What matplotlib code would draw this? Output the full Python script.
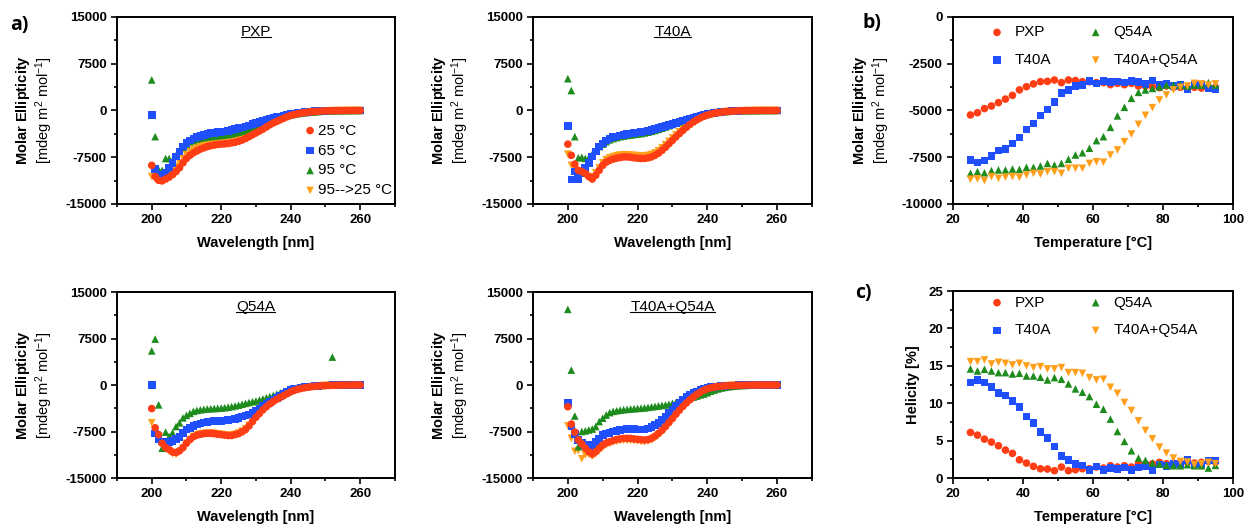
import numpy as np
import matplotlib
matplotlib.use('Agg')
import matplotlib.pyplot as plt
from matplotlib.ticker import MultipleLocator, FixedLocator
from matplotlib.lines import Line2D

plt.rcParams['font.family'] = ['Liberation Sans', 'DejaVu Sans']
plt.rcParams['axes.unicode_minus'] = False
plt.rcParams['mathtext.fontset'] = 'custom'
plt.rcParams['mathtext.rm'] = 'Liberation Sans'
plt.rcParams['mathtext.bf'] = 'Liberation Sans:bold'
plt.rcParams['mathtext.it'] = 'Liberation Sans:italic'

# длины волн (нм) и температуры (°C)
wl = np.arange(200, 261)
temps = np.arange(25, 96, 2)

# ---- CD спектры, 200..260 нм ----
pxp_25 = [-8800, -10600, -11200, -11300, -11000, -10700, -10300, -9800, -9200, -8400,
          -7700, -7200, -6800, -6500, -6200, -6000, -5800, -5650, -5550, -5450,
          -5400, -5350, -5300, -5200, -5100, -4950, -4750, -4500, -4200, -3900,
          -3600, -3300, -3000, -2650, -2300, -2000, -1750, -1500, -1250, -1000,
          -800, -650, -520, -420, -330, -260, -200, -160, -120, -90,
          -70, -50, -40, -30, -20, -20, -10, -10, 0, 0, 0]
pxp_65 = [-700, -9400, -10500, -10300, -10000, -9200, -8400, -7400, -6600, -5800,
          -5200, -4800, -4500, -4250, -4050, -3900, -3750, -3650, -3580, -3500,
          -3420, -3350, -3250, -3130, -3000, -2850, -2700, -2550, -2380, -2200,
          -2020, -1850, -1680, -1520, -1360, -1210, -1070, -940, -820, -700,
          -600, -500, -410, -330, -260, -200, -150, -110, -80, -60,
          -40, -30, -20, -20, -10, -10, 0, 0, 0, 0, 0]
pxp_95 = [4900, -4200, -9500, -9600, -7700, -7700, -8000, -7200, -6500, -5900,
          -5400, -5000, -4800, -4600, -4450, -4350, -4250, -4180, -4120, -4060,
          -4000, -3930, -3850, -3750, -3620, -3480, -3330, -3150, -2960, -2760,
          -2550, -2330, -2100, -1880, -1660, -1450, -1260, -1090, -940, -810,
          -700, -600, -510, -430, -360, -300, -250, -200, -160, -120,
          -90, -70, -50, -40, -30, -20, -10, -10, 0, 0, 0]
pxp_back = [-10600, -11000, -11000, -10800, -10500, -10100, -9600, -9000, -8400, -7700,
            -7100, -6600, -6200, -5900, -5600, -5350, -5150, -5000, -4900, -4800,
            -4730, -4650, -4580, -4480, -4350, -4180, -3980, -3750, -3500, -3230,
            -2950, -2660, -2380, -2100, -1850, -1620, -1400, -1200, -1020, -860,
            -720, -600, -490, -400, -320, -250, -200, -150, -110, -80,
            -60, -40, -30, -20, -20, -10, -10, 0, 0, 0, 0]

t40_25 = [-5400, -7200, -8600, -9600, -9800, -10100, -10600, -11000, -10400, -9600,
          -8800, -8300, -8000, -7800, -7650, -7550, -7450, -7450, -7500, -7600,
          -7650, -7700, -7700, -7600, -7450, -7200, -6850, -6400, -5900, -5350,
          -4800, -4250, -3700, -3200, -2700, -2250, -1850, -1500, -1200, -950,
          -750, -580, -450, -350, -270, -200, -150, -110, -80, -60,
          -40, -30, -20, -20, -10, -10, 0, 0, 0, 0, 0]
t40_65 = [-2500, -11100, -9800, -11000, -10000, -9200, -8400, -7400, -6600, -5800,
          -5300, -4800, -4500, -4300, -4150, -4000, -3900, -3800, -3700, -3620,
          -3550, -3450, -3350, -3250, -3120, -2980, -2830, -2670, -2500, -2320,
          -2140, -1960, -1780, -1600, -1430, -1260, -1100, -950, -810, -680,
          -570, -470, -380, -300, -230, -180, -140, -100, -70, -50,
          -30, -20, -20, -10, -10, 0, 0, 0, 0, 0, 0]
t40_95 = [5100, 3200, -4200, -7600, -7500, -7700, -7600, -7000, -6400, -5800,
          -5400, -5000, -4700, -4500, -4350, -4200, -4100, -4000, -3920, -3850,
          -3780, -3700, -3600, -3480, -3350, -3200, -3030, -2850, -2650, -2450,
          -2250, -2040, -1830, -1630, -1440, -1260, -1090, -940, -800, -680,
          -570, -470, -380, -300, -240, -190, -140, -100, -70, -50,
          -40, -30, -20, -20, -10, -10, 0, 0, 0, 0, 0]
t40_back = [-7000, -8800, -9300, -9700, -10000, -10300, -10600, -10700, -10000, -9200,
            -8400, -7900, -7600, -7400, -7250, -7150, -7100, -7100, -7150, -7200,
            -7250, -7300, -7300, -7200, -7050, -6800, -6450, -6000, -5500, -4950,
            -4400, -3900, -3400, -2950, -2500, -2100, -1750, -1420, -1130, -900,
            -710, -550, -430, -330, -250, -190, -140, -100, -70, -50,
            -40, -30, -20, -10, -10, 0, 0, 0, 0, 0, 0]

q54_25 = [-3800, -6900, -8000, -9400, -10100, -10400, -10800, -10900, -10600, -10100,
          -9400, -8800, -8350, -8100, -7950, -7850, -7800, -7800, -7850, -7950,
          -8000, -8100, -8150, -8150, -8000, -7850, -7550, -7200, -6600, -5900,
          -5200, -4600, -4000, -3500, -3050, -2650, -2300, -2000, -1700, -1400,
          -1100, -880, -700, -560, -450, -360, -280, -210, -160, -120,
          -90, -70, -50, -40, -30, -20, -10, 0, 0, 0, 0]
q54_65 = [0, -7800, -8700, -9100, -9200, -9150, -9000, -8750, -8350, -7700,
          -7200, -6900, -6600, -6350, -6180, -6050, -5950, -5900, -5850, -5820,
          -5800, -5750, -5680, -5580, -5450, -5300, -5100, -4900, -4730, -4450,
          -4150, -3760, -3350, -3000, -2700, -2350, -2050, -1750, -1350, -1100,
          -850, -680, -540, -430, -340, -270, -210, -160, -120, -90,
          -70, -50, -40, -30, -20, -10, -10, 0, 0, 0, 0]
q54_95 = [5500, 7400, -3200, -10200, -7600, -8300, -7700, -6700, -6100, -5300,
          -4900, -4570, -4250, -4100, -4000, -3920, -3870, -3820, -3790, -3760,
          -3720, -3660, -3580, -3480, -3370, -3250, -3100, -2960, -2820, -2700,
          -2580, -2420, -2250, -2070, -1880, -1680, -1470, -1270, -1080, -900,
          -700, -560, -450, -360, -280, -220, -170, -130, -90, -60,
          -40, -30, 4500, -20, -10, -10, 0, 0, 0, 0, 0]
q54_back = [-6100, -7300, -8200, -9500, -10300, -10700, -11100, -11200, -10800, -10200,
            -9400, -8800, -8300, -8050, -7900, -7800, -7750, -7750, -7800, -7900,
            -7950, -8050, -8100, -8100, -7950, -7750, -7450, -7050, -6500, -5850,
            -5150, -4550, -3950, -3450, -3000, -2600, -2250, -1950, -1650, -1370,
            -1080, -870, -690, -550, -440, -350, -270, -200, -150, -110,
            -80, -60, -40, -30, -20, -10, -10, 0, 0, 0, 0]

dbl_25 = [-3500, -6300, -7600, -8850, -9500, -10200, -10750, -11150, -10750, -10200,
          -9700, -9350, -9150, -8950, -8780, -8680, -8620, -8600, -8620, -8700,
          -8760, -8830, -8870, -8800, -8600, -8250, -7800, -7300, -6700, -6050,
          -5400, -4700, -4050, -3450, -2900, -2380, -1920, -1500, -1150, -850,
          -620, -460, -340, -250, -190, -140, -100, -70, -50, -40,
          -30, -20, -20, -10, -10, 0, 0, 0, 0, 0, 0]
dbl_65 = [-2900, -6700, -7900, -8850, -9300, -9650, -9950, -9700, -9150, -8600,
          -8100, -7850, -7700, -7500, -7370, -7250, -7150, -7100, -7100, -7120,
          -7150, -7150, -7150, -7000, -6750, -6450, -6100, -5650, -5100, -4500,
          -3950, -3400, -2900, -2400, -1950, -1600, -1300, -1030, -800, -620,
          -480, -370, -280, -210, -160, -120, -90, -70, -50, -40,
          -30, -20, -20, -10, -10, 0, 0, 0, 0, 0, 0]
dbl_95 = [12200, 2400, -5000, -9950, -7500, -7400, -7250, -7100, -6700, -5900,
          -5350, -4850, -4450, -4250, -4150, -4050, -3980, -3920, -3870, -3820,
          -3780, -3740, -3680, -3610, -3530, -3450, -3370, -3300, -3220, -3100,
          -2950, -2800, -2650, -2480, -2300, -2120, -1950, -1780, -1600, -1450,
          -1250, -1000, -800, -630, -490, -380, -290, -220, -160, -110,
          -80, -60, -40, -30, -20, -10, -10, 0, 0, 0, 0]
dbl_back = [-6600, -8600, -10700, -10600, -11900, -11300, -11200, -11500, -11100, -10600,
            -10100, -9700, -9450, -9250, -9100, -9000, -8950, -8950, -8970, -9020,
            -9080, -9150, -9180, -9100, -8900, -8550, -8100, -7550, -6950, -6250,
            -5550, -4850, -4150, -3550, -2980, -2450, -1980, -1550, -1180, -880,
            -650, -480, -350, -260, -190, -140, -100, -70, -50, -40,
            -30, -20, -10, -10, 0, 0, 0, 0, 0, 0, 0]

# ---- термическая денатурация, 25..95 °C ----
ell_pxp = [-5240, -5120, -4900, -4760, -4580, -4390, -4190, -3900, -3730, -3580,
           -3460, -3440, -3370, -3510, -3370, -3400, -3460, -3460, -3510, -3510,
           -3620, -3550, -3620, -3550, -3690, -3690, -3730, -3780, -3690, -3760,
           -3760, -3800, -3760, -3800, -3760, -3760]
ell_t40 = [-7650, -7790, -7680, -7430, -7150, -7060, -6760, -6440, -6010, -5690,
           -5260, -4940, -4550, -4080, -3900, -3690, -3640, -3420, -3550, -3420,
           -3490, -3460, -3510, -3420, -3490, -3580, -3400, -3640, -3580, -3690,
           -3640, -3870, -3640, -3640, -3820, -3870]
ell_q54 = [-8360, -8270, -8330, -8220, -8180, -8180, -8130, -8150, -8040, -8040,
           -7970, -7830, -7920, -7830, -7610, -7380, -7260, -7020, -6610, -6400,
           -5900, -5290, -4830, -4350, -4030, -3900, -3820, -3730, -3640, -3640,
           -3640, -3690, -3640, -3640, -3510, -3640]
ell_dbl = [-8680, -8660, -8750, -8540, -8630, -8570, -8540, -8570, -8450, -8360,
           -8400, -8270, -8270, -8360, -8090, -8090, -8090, -7830, -7740, -7770,
           -7380, -7110, -6670, -6260, -5740, -5260, -4850, -4440, -4170, -3900,
           -3760, -3690, -3550, -3580, -3640, -3580]

hel_pxp = [6.09, 5.73, 5.20, 4.80, 4.31, 3.73, 3.29, 2.44, 2.00, 1.56,
           1.24, 1.20, 0.98, 1.47, 0.98, 1.11, 1.24, 1.24, 1.47, 1.33,
           1.64, 1.47, 1.64, 1.47, 1.91, 1.87, 1.91, 2.09, 1.91, 2.00,
           2.09, 2.09, 2.00, 2.09, 2.22, 2.13]
hel_t40 = [12.76, 13.10, 12.76, 12.13, 11.33, 11.02, 10.31, 9.47, 8.22, 7.33,
           6.18, 5.33, 4.22, 2.98, 2.44, 1.91, 1.69, 1.11, 1.56, 1.11,
           1.33, 1.20, 1.42, 1.11, 1.42, 1.64, 1.11, 1.78, 1.64, 1.91,
           1.78, 2.44, 1.78, 1.78, 2.36, 2.36]
hel_q54 = [14.58, 14.31, 14.53, 14.31, 14.09, 14.09, 13.91, 14.00, 13.64, 13.64,
           13.47, 13.11, 13.42, 13.20, 12.58, 11.91, 11.47, 10.89, 9.87, 9.20,
           7.87, 6.22, 4.89, 3.64, 2.67, 2.36, 2.00, 1.87, 1.69, 1.64,
           1.64, 1.78, 1.64, 1.64, 1.33, 1.69]
hel_dbl = [15.56, 15.56, 15.78, 15.24, 15.47, 15.33, 15.11, 15.33, 14.98, 14.76,
           14.89, 14.58, 14.58, 14.76, 14.09, 14.09, 14.00, 13.42, 13.11, 13.20,
           12.13, 11.33, 10.09, 9.02, 7.64, 6.36, 5.24, 4.13, 3.33, 2.67,
           2.22, 2.13, 1.78, 1.91, 2.09, 1.91]

spec_labels = ['25 °C', '65 °C', '95 °C', '95-->25 °C']
mut_labels = ['PXP', 'T40A', 'Q54A', 'T40A+Q54A']

colors = ['#ff3d14', '#1f4fff', '#1d8c1d', '#ff9f1c']
markers = ['o', 's', '^', 'v']

fig = plt.figure(figsize=(12.47, 5.29), dpi=100)

ax1 = fig.add_axes([0.0938, 0.6144, 0.2229, 0.3535])
ax2 = fig.add_axes([0.4274, 0.6144, 0.2237, 0.3535])
ax3 = fig.add_axes([0.0938, 0.0964, 0.2229, 0.3516])
ax4 = fig.add_axes([0.4274, 0.0964, 0.2237, 0.3516])
axb = fig.add_axes([0.7642, 0.6144, 0.2245, 0.3535])
axc = fig.add_axes([0.7642, 0.0964, 0.2245, 0.3535])

ylab_ell = r'$\mathbf{Molar\ Ellipticity}$' + '\n' + r'[mdeg m$^2$ mol$^{\mathrm{-1}}$]'


# общий стиль осей
def style_ax(ax):
    for s in ax.spines.values():
        s.set_linewidth(1.4)
    ax.tick_params(which='major', direction='out', length=4.3, width=1.2, labelsize=9.5, pad=3)
    ax.tick_params(which='minor', direction='out', length=2.5, width=1.2)
    for lab in ax.get_xticklabels() + ax.get_yticklabels():
        lab.set_fontweight('bold')


titles = []
spectra = [(ax1, 'PXP', [pxp_25, pxp_65, pxp_95, pxp_back]),
           (ax2, 'T40A', [t40_25, t40_65, t40_95, t40_back]),
           (ax3, 'Q54A', [q54_25, q54_65, q54_95, q54_back]),
           (ax4, 'T40A+Q54A', [dbl_25, dbl_65, dbl_95, dbl_back])]

for ax, name, series in spectra:
    for i in range(4):
        ax.scatter(wl, series[i], s=30, marker=markers[i], color=colors[i],
                   edgecolors='none', zorder=4 - i, label=spec_labels[i])
    ax.set_xlim(190, 270)
    ax.set_ylim(-15000, 15000)
    ax.xaxis.set_major_locator(FixedLocator([200, 220, 240, 260]))
    ax.xaxis.set_minor_locator(MultipleLocator(10))
    ax.yaxis.set_major_locator(MultipleLocator(7500))
    ax.yaxis.set_minor_locator(MultipleLocator(3750))
    ax.set_xlabel('Wavelength [nm]', fontsize=10.5, fontweight='bold')
    ax.set_ylabel(ylab_ell, fontsize=10.5, linespacing=1.1)
    ax.xaxis.set_label_coords(0.5, -0.17)
    ax.yaxis.set_label_coords(-0.223, 0.5)
    t = ax.text(0.5, 0.92, name, transform=ax.transAxes, ha='center', va='center', fontsize=11)
    titles.append(t)
    style_ax(ax)

ax1.legend(loc='upper left', bbox_to_anchor=(0.67, 0.43), frameon=False, fontsize=11,
           handlelength=0.9, handletextpad=0.1, labelspacing=0.39, borderpad=0,
           borderaxespad=0)

# панель b и c
ell = [ell_pxp, ell_t40, ell_q54, ell_dbl]
hel = [hel_pxp, hel_t40, hel_q54, hel_dbl]
for i in range(4):
    axb.scatter(temps, ell[i], s=30, marker=markers[i], color=colors[i],
                edgecolors='none', label=mut_labels[i])
    axc.scatter(temps, hel[i], s=30, marker=markers[i], color=colors[i],
                edgecolors='none', label=mut_labels[i])

for ax in (axb, axc):
    ax.set_xlim(20, 100)
    ax.xaxis.set_major_locator(MultipleLocator(20))
    ax.xaxis.set_minor_locator(MultipleLocator(10))
    ax.set_xlabel('Temperature [°C]', fontsize=10.5, fontweight='bold')
    ax.xaxis.set_label_coords(0.5, -0.17)
    style_ax(ax)

axb.set_ylim(-10000, 0)
axb.yaxis.set_major_locator(MultipleLocator(2500))
axb.yaxis.set_minor_locator(MultipleLocator(1250))
axb.set_ylabel(ylab_ell, fontsize=10.5, linespacing=1.1)
axb.yaxis.set_label_coords(-0.218, 0.5)

axc.set_ylim(0, 25)
axc.yaxis.set_major_locator(MultipleLocator(5))
axc.yaxis.set_minor_locator(MultipleLocator(2.5))
axc.set_ylabel('Helicity [%]', fontsize=10.5, fontweight='bold')
axc.yaxis.set_label_coords(-0.118, 0.5)

for ax, y0 in ((axb, 0.955), (axc, 0.975)):
    ax.legend(loc='upper left', bbox_to_anchor=(0.13, y0), ncol=2, frameon=False, fontsize=11,
              handlelength=1.0, handletextpad=0.67, labelspacing=0.9, columnspacing=2.4,
              borderpad=0, borderaxespad=0)

# подписи панелей
fig.text(0.008, 0.972, 'a)', fontsize=14, fontweight='bold', family='Open Sans', va='top')
fig.text(0.692, 0.975, 'b)', fontsize=14, fontweight='bold', family='Open Sans', va='top')
fig.text(0.686, 0.465, 'c)', fontsize=14, fontweight='bold', family='Open Sans', va='top')

# подчёркивание названий
fig.canvas.draw()
renderer = fig.canvas.get_renderer()
W, H = fig.bbox.width, fig.bbox.height
for t in titles:
    bb = t.get_window_extent(renderer)
    yline = (bb.y0 + 1.5) / H
    fig.add_artist(Line2D([bb.x0 / W, bb.x1 / W], [yline, yline], transform=fig.transFigure,
                          color='black', linewidth=0.8))

plt.savefig('out.png', dpi=100)
